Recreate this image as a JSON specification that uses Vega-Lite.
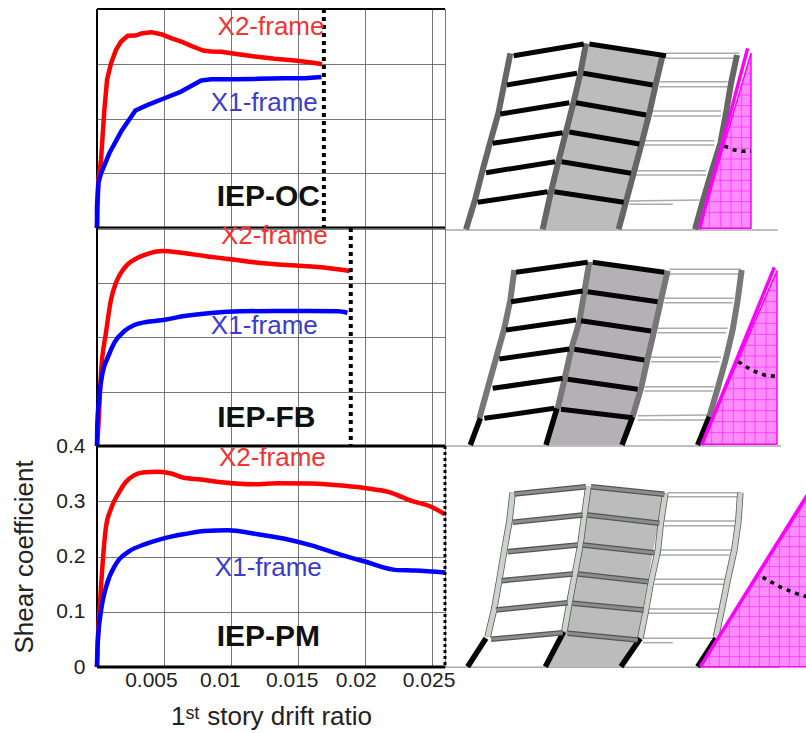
{"$schema":"https://vega.github.io/schema/vega-lite/v6.json","background":"white","padding":{"left":11,"top":6,"right":0,"bottom":0},"spacing":0,"bounds":"flush","columns":2,
"config":{"view":{"stroke":"#777","strokeWidth":1},"font":"Liberation Sans","axis":{"labelFont":"Liberation Sans","titleFont":"Liberation Sans","labelFontSize":21,"titleFontSize":26,"labelColor":"#222","titleColor":"#222","titleFontWeight":"normal","gridColor":"#555","gridWidth":1,"gridOpacity":0.8}},
"datasets":{
"oc":[{"f":"X2","x":0,"y":0},{"f":"X2","x":0.0001,"y":0.0878},{"f":"X2","x":0.0003,"y":0.1243},{"f":"X2","x":0.00055,"y":0.2157},{"f":"X2","x":0.00075,"y":0.2706},{"f":"X2","x":0.00105,"y":0.301},{"f":"X2","x":0.00142,"y":0.3254},{"f":"X2","x":0.0018,"y":0.3406},{"f":"X2","x":0.0023,"y":0.351},{"f":"X2","x":0.0029,"y":0.3516},{"f":"X2","x":0.0034,"y":0.3559},{"f":"X2","x":0.00404,"y":0.3577},{"f":"X2","x":0.00479,"y":0.354},{"f":"X2","x":0.00554,"y":0.3467},{"f":"X2","x":0.00629,"y":0.3406},{"f":"X2","x":0.00704,"y":0.3327},{"f":"X2","x":0.00791,"y":0.3242},{"f":"X2","x":0.00853,"y":0.3224},{"f":"X2","x":0.00928,"y":0.3218},{"f":"X2","x":0.01028,"y":0.3181},{"f":"X2","x":0.01178,"y":0.3132},{"f":"X2","x":0.01327,"y":0.309},{"f":"X2","x":0.01477,"y":0.3059},{"f":"X2","x":0.01602,"y":0.3023},{"f":"X2","x":0.01682,"y":0.2992},
{"f":"X1","x":0,"y":0},{"f":"X1","x":0,"y":0.039},{"f":"X1","x":0.0001,"y":0.0817},{"f":"X1","x":0.0003,"y":0.0999},{"f":"X1","x":0.00092,"y":0.1365},{"f":"X1","x":0.0018,"y":0.1761},{"f":"X1","x":0.00287,"y":0.2145},{"f":"X1","x":0.00379,"y":0.2249},{"f":"X1","x":0.00504,"y":0.237},{"f":"X1","x":0.00629,"y":0.2492},{"f":"X1","x":0.00778,"y":0.2693},{"f":"X1","x":0.00853,"y":0.2718},{"f":"X1","x":0.01028,"y":0.2718},{"f":"X1","x":0.01203,"y":0.2724},{"f":"X1","x":0.01402,"y":0.2736},{"f":"X1","x":0.01552,"y":0.2736},{"f":"X1","x":0.01677,"y":0.276}],
"fb":[{"f":"X2","x":0,"y":0},{"f":"X2","x":0.0001,"y":0.0367},{"f":"X2","x":0.0003,"y":0.1346},{"f":"X2","x":0.00067,"y":0.2079},{"f":"X2","x":0.00105,"y":0.2691},{"f":"X2","x":0.00142,"y":0.2997},{"f":"X2","x":0.0018,"y":0.318},{"f":"X2","x":0.00229,"y":0.3333},{"f":"X2","x":0.00292,"y":0.3437},{"f":"X2","x":0.00367,"y":0.3517},{"f":"X2","x":0.00492,"y":0.3578},{"f":"X2","x":0.00629,"y":0.3547},{"f":"X2","x":0.00803,"y":0.3486},{"f":"X2","x":0.01003,"y":0.3425},{"f":"X2","x":0.01203,"y":0.3364},{"f":"X2","x":0.01452,"y":0.3315},{"f":"X2","x":0.01651,"y":0.3284},{"f":"X2","x":0.01889,"y":0.3211},
{"f":"X1","x":0,"y":0},{"f":"X1","x":0.00002,"y":0.0367},{"f":"X1","x":0.00015,"y":0.0856},{"f":"X1","x":0.00042,"y":0.1346},{"f":"X1","x":0.0008,"y":0.1621},{"f":"X1","x":0.0013,"y":0.1896},{"f":"X1","x":0.00205,"y":0.211},{"f":"X1","x":0.00279,"y":0.222},{"f":"X1","x":0.00367,"y":0.2275},{"f":"X1","x":0.00479,"y":0.2306},{"f":"X1","x":0.00654,"y":0.2385},{"f":"X1","x":0.00853,"y":0.244},{"f":"X1","x":0.01078,"y":0.2471},{"f":"X1","x":0.01327,"y":0.2477},{"f":"X1","x":0.01577,"y":0.2477},{"f":"X1","x":0.01801,"y":0.2471},{"f":"X1","x":0.01871,"y":0.2446}],
"pm":[{"f":"X2","x":0,"y":0},{"f":"X2","x":0.00005,"y":0.0412},{"f":"X2","x":0.00025,"y":0.1261},{"f":"X2","x":0.00067,"y":0.2533},{"f":"X2","x":0.00105,"y":0.2867},{"f":"X2","x":0.00167,"y":0.317},{"f":"X2","x":0.00217,"y":0.3352},{"f":"X2","x":0.00279,"y":0.3473},{"f":"X2","x":0.00354,"y":0.3527},{"f":"X2","x":0.00454,"y":0.3533},{"f":"X2","x":0.00554,"y":0.3503},{"f":"X2","x":0.00641,"y":0.343},{"f":"X2","x":0.00778,"y":0.3394},{"f":"X2","x":0.00928,"y":0.3345},{"f":"X2","x":0.01178,"y":0.3309},{"f":"X2","x":0.01352,"y":0.3327},{"f":"X2","x":0.01602,"y":0.3321},{"f":"X2","x":0.01851,"y":0.3279},{"f":"X2","x":0.02026,"y":0.323},{"f":"X2","x":0.02176,"y":0.317},{"f":"X2","x":0.0235,"y":0.3006},{"f":"X2","x":0.025,"y":0.2897},{"f":"X2","x":0.026,"y":0.2764},
{"f":"X1","x":0,"y":0},{"f":"X1","x":0.00005,"y":0.0412},{"f":"X1","x":0.0003,"y":0.1018},{"f":"X1","x":0.00067,"y":0.1442},{"f":"X1","x":0.00142,"y":0.1867},{"f":"X1","x":0.00242,"y":0.2097},{"f":"X1","x":0.00354,"y":0.2218},{"f":"X1","x":0.00479,"y":0.2315},{"f":"X1","x":0.00654,"y":0.2406},{"f":"X1","x":0.00803,"y":0.2461},{"f":"X1","x":0.00978,"y":0.2473},{"f":"X1","x":0.01178,"y":0.2412},{"f":"X1","x":0.01402,"y":0.2321},{"f":"X1","x":0.01602,"y":0.22},{"f":"X1","x":0.01801,"y":0.2048},{"f":"X1","x":0.02001,"y":0.1909},{"f":"X1","x":0.02226,"y":0.1758},{"f":"X1","x":0.02375,"y":0.1745},{"f":"X1","x":0.026,"y":0.1709}],
"A":[
{"k":"wall","y":75,"x":410,"x2":410},{"k":"wall","y":105,"x":403,"x2":630},{"k":"wall","y":190,"x":385,"x2":615},{"k":"wall","y":280,"x":360,"x2":595},{"k":"wall","y":370,"x":337,"x2":572},{"k":"wall","y":460,"x":315,"x2":548},{"k":"wall","y":545,"x":295,"x2":525},{"k":"wall","y":628,"x":275,"x2":503},
{"k":"tri","y":100,"x":900,"x2":900},{"k":"tri","y":625,"x":745,"x2":900},
{"k":"col","id":"c1","x":45,"y":628},{"k":"col","id":"c1","x":72,"y":540},{"k":"col","id":"c1","x":95,"y":450},{"k":"col","id":"c1","x":118,"y":365},{"k":"col","id":"c1","x":142,"y":280},{"k":"col","id":"c1","x":160,"y":190},{"k":"col","id":"c1","x":178,"y":100},
{"k":"col","id":"c2","x":275,"y":628},{"k":"col","id":"c2","x":300,"y":515},{"k":"col","id":"c2","x":322,"y":425},{"k":"col","id":"c2","x":345,"y":335},{"k":"col","id":"c2","x":368,"y":245},{"k":"col","id":"c2","x":388,"y":160},{"k":"col","id":"c2","x":405,"y":70},
{"k":"col","id":"c3","x":503,"y":628},{"k":"col","id":"c3","x":525,"y":545},{"k":"col","id":"c3","x":548,"y":460},{"k":"col","id":"c3","x":572,"y":370},{"k":"col","id":"c3","x":595,"y":280},{"k":"col","id":"c3","x":615,"y":190},{"k":"col","id":"c3","x":635,"y":105},
{"k":"col","id":"c4","x":732,"y":628},{"k":"col","id":"c4","x":755,"y":545},{"k":"col","id":"c4","x":780,"y":460},{"k":"col","id":"c4","x":808,"y":370},{"k":"col","id":"c4","x":825,"y":280},{"k":"col","id":"c4","x":840,"y":190},{"k":"col","id":"c4","x":858,"y":105},
{"k":"beam","x":80,"y":547,"x2":290,"y2":515},{"k":"beam","x":105,"y":458,"x2":312,"y2":425},{"k":"beam","x":125,"y":370,"x2":335,"y2":338},{"k":"beam","x":148,"y":282,"x2":355,"y2":248},{"k":"beam","x":168,"y":195,"x2":378,"y2":160},{"k":"beam","x":188,"y":107,"x2":398,"y2":72},
{"k":"beam","x":310,"y":515,"x2":518,"y2":547},{"k":"beam","x":332,"y":425,"x2":540,"y2":460},{"k":"beam","x":355,"y":336,"x2":565,"y2":372},{"k":"beam","x":375,"y":248,"x2":585,"y2":285},{"k":"beam","x":397,"y":160,"x2":605,"y2":195},{"k":"beam","x":415,"y":72,"x2":645,"y2":107},
{"k":"thin","x":535,"y":543,"x2":745,"y2":540},{"k":"thin","x":535,"y":553,"x2":665,"y2":553},{"k":"thin","x":555,"y":452,"x2":765,"y2":452},{"k":"thin","x":555,"y":465,"x2":765,"y2":465},{"k":"thin","x":580,"y":362,"x2":790,"y2":362},{"k":"thin","x":580,"y":375,"x2":790,"y2":375},{"k":"thin","x":600,"y":273,"x2":810,"y2":273},{"k":"thin","x":605,"y":288,"x2":810,"y2":288},{"k":"thin","x":625,"y":185,"x2":830,"y2":185},{"k":"thin","x":625,"y":200,"x2":830,"y2":200},{"k":"thin","x":645,"y":100,"x2":865,"y2":100},{"k":"thin","x":645,"y":115,"x2":850,"y2":115},
{"k":"ground","x":-15,"y":630,"x2":980,"y2":630},
{"k":"grid","x":891,"y":129,"x2":900,"y2":129},{"k":"grid","x":882,"y":161,"x2":900,"y2":161},{"k":"grid","x":872,"y":193,"x2":900,"y2":193},{"k":"grid","x":863,"y":225,"x2":900,"y2":225},{"k":"grid","x":854,"y":257,"x2":900,"y2":257},{"k":"grid","x":844,"y":289,"x2":900,"y2":289},{"k":"grid","x":835,"y":321,"x2":900,"y2":321},{"k":"grid","x":825,"y":353,"x2":900,"y2":353},{"k":"grid","x":816,"y":385,"x2":900,"y2":385},{"k":"grid","x":806,"y":417,"x2":900,"y2":417},{"k":"grid","x":797,"y":449,"x2":900,"y2":449},{"k":"grid","x":787,"y":481,"x2":900,"y2":481},{"k":"grid","x":778,"y":513,"x2":900,"y2":513},{"k":"grid","x":769,"y":545,"x2":900,"y2":545},{"k":"grid","x":759,"y":577,"x2":900,"y2":577},
{"k":"grid","x":775,"y":523,"x2":775,"y2":625},{"k":"grid","x":808,"y":412,"x2":808,"y2":625},{"k":"grid","x":840,"y":303,"x2":840,"y2":625},{"k":"grid","x":872,"y":195,"x2":872,"y2":625},
{"k":"hyp","x":745,"y":628,"x2":890,"y2":85},
{"k":"edge","x":745,"y":625,"x2":900,"y2":100},{"k":"edge","x":900,"y":100,"x2":900,"y2":625},{"k":"edge","x":745,"y":625,"x2":900,"y2":625},
{"k":"dot","x":820,"y":378},{"k":"dot","x":850,"y":390},{"k":"dot","x":872,"y":394},{"k":"dot","x":900,"y":394}],
"B":[
{"k":"wall","y":37,"x":420,"x2":420},{"k":"wall","y":65,"x":412,"x2":640},{"k":"wall","y":155,"x":398,"x2":622},{"k":"wall","y":240,"x":378,"x2":603},{"k":"wall","y":330,"x":355,"x2":583},{"k":"wall","y":415,"x":335,"x2":560},{"k":"wall","y":500,"x":318,"x2":540},{"k":"wall","y":585,"x":290,"x2":510},
{"k":"tri","y":62,"x":978,"x2":978},{"k":"tri","y":583,"x":752,"x2":978},
{"k":"col","id":"c1","x":85,"y":505},{"k":"col","id":"c1","x":110,"y":415},{"k":"col","id":"c1","x":135,"y":325},{"k":"col","id":"c1","x":160,"y":235},{"k":"col","id":"c1","x":178,"y":150},{"k":"col","id":"c1","x":190,"y":60},
{"k":"col","id":"c2","x":320,"y":475},{"k":"col","id":"c2","x":340,"y":390},{"k":"col","id":"c2","x":360,"y":300},{"k":"col","id":"c2","x":385,"y":215},{"k":"col","id":"c2","x":400,"y":125},{"k":"col","id":"c2","x":415,"y":35},
{"k":"col","id":"c3","x":545,"y":500},{"k":"col","id":"c3","x":570,"y":415},{"k":"col","id":"c3","x":590,"y":325},{"k":"col","id":"c3","x":610,"y":240},{"k":"col","id":"c3","x":630,"y":150},{"k":"col","id":"c3","x":650,"y":62},
{"k":"col","id":"c4","x":775,"y":500},{"k":"col","id":"c4","x":800,"y":415},{"k":"col","id":"c4","x":825,"y":325},{"k":"col","id":"c4","x":845,"y":240},{"k":"col","id":"c4","x":860,"y":150},{"k":"col","id":"c4","x":872,"y":60},
{"k":"low","x":58,"y":585,"x2":88,"y2":505},{"k":"low","x":285,"y":585,"x2":318,"y2":475},{"k":"low","x":513,"y":585,"x2":545,"y2":500},{"k":"low","x":740,"y":585,"x2":775,"y2":500},
{"k":"beam","x":100,"y":505,"x2":310,"y2":475},{"k":"beam","x":125,"y":415,"x2":335,"y2":385},{"k":"beam","x":145,"y":327,"x2":355,"y2":297},{"k":"beam","x":165,"y":240,"x2":375,"y2":210},{"k":"beam","x":180,"y":155,"x2":395,"y2":123},{"k":"beam","x":195,"y":67,"x2":410,"y2":37},
{"k":"beam","x":330,"y":478,"x2":545,"y2":503},{"k":"beam","x":350,"y":388,"x2":560,"y2":418},{"k":"beam","x":370,"y":298,"x2":580,"y2":330},{"k":"beam","x":390,"y":212,"x2":600,"y2":243},{"k":"beam","x":410,"y":125,"x2":620,"y2":155},{"k":"beam","x":425,"y":37,"x2":640,"y2":67},
{"k":"thin","x":560,"y":497,"x2":770,"y2":495},{"k":"thin","x":560,"y":510,"x2":765,"y2":510},{"k":"thin","x":580,"y":410,"x2":790,"y2":410},{"k":"thin","x":580,"y":423,"x2":785,"y2":423},{"k":"thin","x":600,"y":322,"x2":810,"y2":322},{"k":"thin","x":600,"y":335,"x2":805,"y2":335},{"k":"thin","x":620,"y":235,"x2":830,"y2":235},{"k":"thin","x":620,"y":248,"x2":825,"y2":248},{"k":"thin","x":640,"y":145,"x2":850,"y2":145},{"k":"thin","x":640,"y":158,"x2":845,"y2":158},{"k":"thin","x":655,"y":58,"x2":870,"y2":58},{"k":"thin","x":655,"y":72,"x2":865,"y2":72},
{"k":"ground","x":-15,"y":588,"x2":990,"y2":588},
{"k":"grid","x":966,"y":90,"x2":978,"y2":90},{"k":"grid","x":952,"y":122,"x2":978,"y2":122},{"k":"grid","x":938,"y":155,"x2":978,"y2":155},{"k":"grid","x":923,"y":188,"x2":978,"y2":188},{"k":"grid","x":910,"y":220,"x2":978,"y2":220},{"k":"grid","x":895,"y":253,"x2":978,"y2":253},{"k":"grid","x":881,"y":286,"x2":978,"y2":286},{"k":"grid","x":867,"y":318,"x2":978,"y2":318},{"k":"grid","x":853,"y":351,"x2":978,"y2":351},{"k":"grid","x":838,"y":384,"x2":978,"y2":384},{"k":"grid","x":824,"y":416,"x2":978,"y2":416},{"k":"grid","x":810,"y":449,"x2":978,"y2":449},{"k":"grid","x":796,"y":482,"x2":978,"y2":482},{"k":"grid","x":782,"y":515,"x2":978,"y2":515},{"k":"grid","x":767,"y":548,"x2":978,"y2":548},
{"k":"grid","x":782,"y":514,"x2":782,"y2":583},{"k":"grid","x":815,"y":438,"x2":815,"y2":583},{"k":"grid","x":847,"y":364,"x2":847,"y2":583},{"k":"grid","x":880,"y":288,"x2":880,"y2":583},{"k":"grid","x":912,"y":214,"x2":912,"y2":583},{"k":"grid","x":945,"y":138,"x2":945,"y2":583},
{"k":"hyp","x":752,"y":585,"x2":970,"y2":52},
{"k":"edge","x":752,"y":583,"x2":978,"y2":62},{"k":"edge","x":978,"y":62,"x2":978,"y2":583},{"k":"edge","x":752,"y":583,"x2":978,"y2":583},
{"k":"dot","x":862,"y":335},{"k":"dot","x":900,"y":360},{"k":"dot","x":940,"y":375},{"k":"dot","x":980,"y":380}],
"C":[
{"k":"wall","y":50,"x":418,"x2":418},{"k":"wall","y":73,"x":412,"x2":635},{"k":"wall","y":160,"x":400,"x2":622},{"k":"wall","y":248,"x":385,"x2":605},{"k":"wall","y":335,"x":367,"x2":590},{"k":"wall","y":420,"x":350,"x2":575},{"k":"wall","y":505,"x":333,"x2":560},{"k":"wall","y":590,"x":290,"x2":510},
{"k":"tri","y":80,"x":1068,"x2":1068},{"k":"tri","y":590,"x":748,"x2":1068},
{"k":"col","id":"c1","x":110,"y":500},{"k":"col","id":"c1","x":130,"y":415},{"k":"col","id":"c1","x":145,"y":330},{"k":"col","id":"c1","x":160,"y":240},{"k":"col","id":"c1","x":175,"y":155},{"k":"col","id":"c1","x":185,"y":68},
{"k":"col","id":"c2","x":340,"y":485},{"k":"col","id":"c2","x":355,"y":400},{"k":"col","id":"c2","x":372,"y":310},{"k":"col","id":"c2","x":388,"y":225},{"k":"col","id":"c2","x":400,"y":135},{"k":"col","id":"c2","x":412,"y":50},
{"k":"col","id":"c3","x":568,"y":505},{"k":"col","id":"c3","x":585,"y":420},{"k":"col","id":"c3","x":600,"y":335},{"k":"col","id":"c3","x":620,"y":245},{"k":"col","id":"c3","x":630,"y":155},{"k":"col","id":"c3","x":643,"y":70},
{"k":"col","id":"c4","x":795,"y":500},{"k":"col","id":"c4","x":812,"y":420},{"k":"col","id":"c4","x":830,"y":330},{"k":"col","id":"c4","x":850,"y":240},{"k":"col","id":"c4","x":862,"y":155},{"k":"col","id":"c4","x":868,"y":68},
{"k":"low","x":50,"y":590,"x2":105,"y2":505},{"k":"low","x":283,"y":590,"x2":338,"y2":485},{"k":"low","x":510,"y":590,"x2":568,"y2":505},{"k":"low","x":740,"y":590,"x2":795,"y2":505},
{"k":"beam","x":120,"y":508,"x2":335,"y2":488},{"k":"beam","x":135,"y":420,"x2":350,"y2":398},{"k":"beam","x":152,"y":332,"x2":365,"y2":312},{"k":"beam","x":170,"y":245,"x2":380,"y2":225},{"k":"beam","x":185,"y":157,"x2":395,"y2":135},{"k":"beam","x":190,"y":72,"x2":405,"y2":50},
{"k":"beam","x":350,"y":490,"x2":560,"y2":510},{"k":"beam","x":365,"y":400,"x2":578,"y2":420},{"k":"beam","x":382,"y":312,"x2":592,"y2":335},{"k":"beam","x":395,"y":225,"x2":610,"y2":248},{"k":"beam","x":410,"y":135,"x2":625,"y2":160},{"k":"beam","x":420,"y":50,"x2":640,"y2":73},
{"k":"thin","x":575,"y":505,"x2":790,"y2":505},{"k":"thin","x":575,"y":518,"x2":665,"y2":518},{"k":"thin","x":590,"y":417,"x2":805,"y2":417},{"k":"thin","x":590,"y":430,"x2":800,"y2":430},{"k":"thin","x":610,"y":328,"x2":825,"y2":328},{"k":"thin","x":610,"y":343,"x2":820,"y2":343},{"k":"thin","x":625,"y":240,"x2":840,"y2":240},{"k":"thin","x":625,"y":255,"x2":835,"y2":255},{"k":"thin","x":640,"y":153,"x2":860,"y2":153},{"k":"thin","x":640,"y":167,"x2":855,"y2":167},{"k":"thin","x":650,"y":68,"x2":870,"y2":68},{"k":"thin","x":650,"y":80,"x2":865,"y2":80},
{"k":"ground","x":-15,"y":592,"x2":985,"y2":592},
{"k":"grid","x":1030,"y":140,"x2":1068,"y2":140},{"k":"grid","x":1011,"y":170,"x2":1068,"y2":170},{"k":"grid","x":993,"y":200,"x2":1068,"y2":200},{"k":"grid","x":974,"y":230,"x2":1068,"y2":230},{"k":"grid","x":955,"y":260,"x2":1068,"y2":260},{"k":"grid","x":936,"y":290,"x2":1068,"y2":290},{"k":"grid","x":917,"y":320,"x2":1068,"y2":320},{"k":"grid","x":898,"y":350,"x2":1068,"y2":350},{"k":"grid","x":880,"y":380,"x2":1068,"y2":380},{"k":"grid","x":861,"y":410,"x2":1068,"y2":410},{"k":"grid","x":842,"y":440,"x2":1068,"y2":440},{"k":"grid","x":823,"y":470,"x2":1068,"y2":470},{"k":"grid","x":804,"y":500,"x2":1068,"y2":500},{"k":"grid","x":786,"y":530,"x2":1068,"y2":530},{"k":"grid","x":767,"y":560,"x2":1068,"y2":560},
{"k":"grid","x":775,"y":547,"x2":775,"y2":590},{"k":"grid","x":805,"y":499,"x2":805,"y2":590},{"k":"grid","x":835,"y":451,"x2":835,"y2":590},{"k":"grid","x":865,"y":403,"x2":865,"y2":590},{"k":"grid","x":895,"y":356,"x2":895,"y2":590},{"k":"grid","x":925,"y":308,"x2":925,"y2":590},{"k":"grid","x":955,"y":260,"x2":955,"y2":590},{"k":"grid","x":985,"y":212,"x2":985,"y2":590},{"k":"grid","x":1015,"y":164,"x2":1015,"y2":590},{"k":"grid","x":1045,"y":116,"x2":1045,"y2":590},
{"k":"hyp","x":748,"y":590,"x2":1068,"y2":76},
{"k":"edge","x":748,"y":590,"x2":1068,"y2":84},{"k":"edge","x":748,"y":590,"x2":1068,"y2":590},
{"k":"dot","x":935,"y":322},{"k":"dot","x":990,"y":352},{"k":"dot","x":1040,"y":372},{"k":"dot","x":1068,"y":380}]
},
"concat":[
{"width":348,"height":219,"data":{"name":"oc"},
"encoding":{"x":{"field":"x","type":"quantitative","scale":{"domain":[0,0.026],"nice":false,"zero":false},"axis":{"values":[0.005,0.01,0.015,0.02,0.025],"labels":false,"ticks":false,"domain":false,"title":null,"grid":true}},"y":{"field":"y","type":"quantitative","scale":{"domain":[0,0.4],"nice":false},"axis":{"values":[0,0.1,0.2,0.3,0.4],"labels":false,"ticks":false,"domain":false,"title":null,"grid":true}}},
"layer":[
{"mark":{"type":"rule","stroke":"black","strokeWidth":2},"data":{"values":[{"v":0.4}]},"encoding":{"x":{"value":0},"x2":{"value":348},"y":{"field":"v","type":"quantitative"}}},
{"mark":{"type":"rule","stroke":"black","strokeWidth":2},"data":{"values":[{"v":0}]},"encoding":{"x":{"field":"v","type":"quantitative"},"y":{"value":0},"y2":{"value":219}}},
{"mark":{"type":"line","strokeWidth":4.5,"stroke":"#ff0000","strokeJoin":"round"},"transform":[{"filter":"datum.f==='X2'"}]},
{"mark":{"type":"line","strokeWidth":4.5,"stroke":"#0000ff","strokeJoin":"round"},"transform":[{"filter":"datum.f==='X1'"}]},
{"mark":{"type":"rule","stroke":"black","strokeWidth":4,"strokeDash":[4,4]},"data":{"values":[{"d":0.01695}]},"encoding":{"x":{"field":"d","type":"quantitative"},"y":{"value":0},"y2":{"value":219}}},
{"mark":{"type":"rule","stroke":"black","strokeWidth":3},"data":{"values":[{"v":0}]},"encoding":{"y":{"field":"v","type":"quantitative"},"x":{"value":0},"x2":{"value":348}}},
{"mark":{"type":"text","font":"Liberation Sans","fontSize":26},"data":{"values":[{"t":"X2-frame","x":0.013,"y":0.367,"c":"#f33333"},{"t":"X1-frame","x":0.0125,"y":0.2285,"c":"#3c3ccc"}]},"encoding":{"text":{"field":"t"},"color":{"field":"c","type":"nominal","scale":null}}},
{"mark":{"type":"text","font":"Liberation Sans","fontSize":30,"fontWeight":"bold","color":"#111"},"data":{"values":[{"t":"IEP-OC","x":0.0128,"y":0.057}]},"encoding":{"text":{"field":"t"}}}
]},
{"width":362,"height":219,"data":{"name":"A"},"view":{"stroke":null},
"encoding":{"x":{"field":"x","type":"quantitative","scale":{"domain":[-18,1068],"nice":false,"zero":false},"axis":null},"y":{"field":"y","type":"quantitative","scale":{"domain":[624,-33],"nice":false,"zero":false},"axis":null}},
"layer":[
{"mark":{"type":"area","orient":"horizontal","fill":"#bcbcbc"},"transform":[{"filter":"datum.k==='wall'"}],"encoding":{"x2":{"field":"x2"}}},
{"mark":{"type":"area","orient":"horizontal","fill":"#ff8cff"},"transform":[{"filter":"datum.k==='tri'"}],"encoding":{"x2":{"field":"x2"}}},
{"mark":{"type":"rule","stroke":"#ff33ff","strokeWidth":0.8},"transform":[{"filter":"datum.k==='grid'"}],"encoding":{"x2":{"field":"x2"},"y2":{"field":"y2"}}},
{"mark":{"type":"rule","stroke":"#aaa","strokeWidth":1.5},"transform":[{"filter":"datum.k==='ground'||datum.k==='thin'"}],"encoding":{"x2":{"field":"x2"},"y2":{"field":"y2"}}},
{"mark":{"type":"line","stroke":"#666","strokeWidth":6},"transform":[{"filter":"datum.k==='col'"}],"encoding":{"detail":{"field":"id"}}},
{"mark":{"type":"rule","stroke":"#050505","strokeWidth":5},"transform":[{"filter":"datum.k==='beam'"}],"encoding":{"x2":{"field":"x2"},"y2":{"field":"y2"}}},
{"mark":{"type":"rule","stroke":"#ff00ff","strokeWidth":3.5},"transform":[{"filter":"datum.k==='hyp'"}],"encoding":{"x2":{"field":"x2"},"y2":{"field":"y2"}}},
{"mark":{"type":"rule","stroke":"#ff00ff","strokeWidth":1.5},"transform":[{"filter":"datum.k==='edge'"}],"encoding":{"x2":{"field":"x2"},"y2":{"field":"y2"}}},
{"mark":{"type":"line","stroke":"black","strokeWidth":3.5,"strokeDash":[4,5]},"transform":[{"filter":"datum.k==='dot'"}]}
]},
{"width":348,"height":218,"data":{"name":"fb"},
"encoding":{"x":{"field":"x","type":"quantitative","scale":{"domain":[0,0.026],"nice":false,"zero":false},"axis":{"values":[0.005,0.01,0.015,0.02,0.025],"labels":false,"ticks":false,"domain":false,"title":null,"grid":true}},"y":{"field":"y","type":"quantitative","scale":{"domain":[0,0.4],"nice":false},"axis":{"values":[0,0.1,0.2,0.3,0.4],"labels":false,"ticks":false,"domain":false,"title":null,"grid":true}}},
"layer":[
{"mark":{"type":"rule","stroke":"black","strokeWidth":2},"data":{"values":[{"v":0}]},"encoding":{"x":{"field":"v","type":"quantitative"},"y":{"value":0},"y2":{"value":218}}},
{"mark":{"type":"line","strokeWidth":4.5,"stroke":"#ff0000","strokeJoin":"round","interpolate":"monotone"},"transform":[{"filter":"datum.f==='X2'"}]},
{"mark":{"type":"line","strokeWidth":4.5,"stroke":"#0000ff","strokeJoin":"round","interpolate":"monotone"},"transform":[{"filter":"datum.f==='X1'"}]},
{"mark":{"type":"rule","stroke":"black","strokeWidth":4,"strokeDash":[4,4]},"data":{"values":[{"d":0.01896}]},"encoding":{"x":{"field":"d","type":"quantitative"},"y":{"value":0},"y2":{"value":218}}},
{"mark":{"type":"rule","stroke":"black","strokeWidth":3},"data":{"values":[{"v":0}]},"encoding":{"y":{"field":"v","type":"quantitative"},"x":{"value":0},"x2":{"value":348}}},
{"mark":{"type":"text","font":"Liberation Sans","fontSize":26},"data":{"values":[{"t":"X2-frame","x":0.01325,"y":0.385,"c":"#f33333"},{"t":"X1-frame","x":0.0125,"y":0.22,"c":"#3c3ccc"}]},"encoding":{"text":{"field":"t"},"color":{"field":"c","type":"nominal","scale":null}}},
{"mark":{"type":"text","font":"Liberation Sans","fontSize":30,"fontWeight":"bold","color":"#111"},"data":{"values":[{"t":"IEP-FB","x":0.01265,"y":0.051}]},"encoding":{"text":{"field":"t"}}}
]},
{"width":362,"height":218,"data":{"name":"B"},"view":{"stroke":null},
"encoding":{"x":{"field":"x","type":"quantitative","scale":{"domain":[-18,1068],"nice":false,"zero":false},"axis":null},"y":{"field":"y","type":"quantitative","scale":{"domain":[588,-66],"nice":false,"zero":false},"axis":null}},
"layer":[
{"mark":{"type":"area","orient":"horizontal","fill":"#b5b0b5"},"transform":[{"filter":"datum.k==='wall'"}],"encoding":{"x2":{"field":"x2"}}},
{"mark":{"type":"area","orient":"horizontal","fill":"#ff8cff"},"transform":[{"filter":"datum.k==='tri'"}],"encoding":{"x2":{"field":"x2"}}},
{"mark":{"type":"rule","stroke":"#ff33ff","strokeWidth":0.8},"transform":[{"filter":"datum.k==='grid'"}],"encoding":{"x2":{"field":"x2"},"y2":{"field":"y2"}}},
{"mark":{"type":"rule","stroke":"#aaa","strokeWidth":1.5},"transform":[{"filter":"datum.k==='ground'||datum.k==='thin'"}],"encoding":{"x2":{"field":"x2"},"y2":{"field":"y2"}}},
{"mark":{"type":"line","stroke":"#777","strokeWidth":6},"transform":[{"filter":"datum.k==='col'"}],"encoding":{"detail":{"field":"id"}}},
{"mark":{"type":"rule","stroke":"#050505","strokeWidth":5.5},"transform":[{"filter":"datum.k==='low'"}],"encoding":{"x2":{"field":"x2"},"y2":{"field":"y2"}}},
{"mark":{"type":"rule","stroke":"#050505","strokeWidth":5},"transform":[{"filter":"datum.k==='beam'"}],"encoding":{"x2":{"field":"x2"},"y2":{"field":"y2"}}},
{"mark":{"type":"rule","stroke":"#ff00ff","strokeWidth":3.5},"transform":[{"filter":"datum.k==='hyp'"}],"encoding":{"x2":{"field":"x2"},"y2":{"field":"y2"}}},
{"mark":{"type":"rule","stroke":"#ff00ff","strokeWidth":1.5},"transform":[{"filter":"datum.k==='edge'"}],"encoding":{"x2":{"field":"x2"},"y2":{"field":"y2"}}},
{"mark":{"type":"line","stroke":"black","strokeWidth":3.5,"strokeDash":[4,5]},"transform":[{"filter":"datum.k==='dot'"}]}
]},
{"width":348,"height":221,"data":{"name":"pm"},
"encoding":{"x":{"field":"x","type":"quantitative","scale":{"domain":[0,0.026],"nice":false,"zero":false},"axis":{"values":[0.005,0.01,0.015,0.02,0.025],"format":"~g","labelPadding":2,"ticks":false,"domain":false,"title":"1ˢᵗ story drift ratio","titlePadding":13,"grid":true,"labelFlush":false,"labelOverlap":false,"labelOffset":{"expr":"datum.value==0.005?-13:datum.value==0.01?-11:datum.value==0.015?-6:datum.value==0.02?-9:-3"}}},"y":{"field":"y","type":"quantitative","scale":{"domain":[0,0.4],"nice":false},"axis":{"values":[0,0.1,0.2,0.3,0.4],"format":"~g","labelPadding":12,"ticks":false,"domain":false,"title":"Shear coefficient","titlePadding":18,"grid":true}}},
"layer":[
{"mark":{"type":"rule","stroke":"black","strokeWidth":2},"data":{"values":[{"v":0.4}]},"encoding":{"x":{"value":0},"x2":{"value":348},"y":{"field":"v","type":"quantitative"}}},
{"mark":{"type":"rule","stroke":"black","strokeWidth":2},"data":{"values":[{"v":0}]},"encoding":{"x":{"field":"v","type":"quantitative"},"y":{"value":0},"y2":{"value":221}}},
{"mark":{"type":"line","strokeWidth":4.5,"stroke":"#ff0000","strokeJoin":"round","interpolate":"monotone"},"transform":[{"filter":"datum.f==='X2'"}]},
{"mark":{"type":"line","strokeWidth":4.5,"stroke":"#0000ff","strokeJoin":"round","interpolate":"monotone"},"transform":[{"filter":"datum.f==='X1'"}]},
{"mark":{"type":"rule","stroke":"black","strokeWidth":3,"strokeDash":[3,3]},"data":{"values":[{"d":0.026}]},"encoding":{"x":{"field":"d","type":"quantitative"},"y":{"value":0},"y2":{"value":221}}},
{"mark":{"type":"rule","stroke":"black","strokeWidth":3},"data":{"values":[{"v":0}]},"encoding":{"y":{"field":"v","type":"quantitative"},"x":{"value":0},"x2":{"value":348}}},
{"mark":{"type":"text","font":"Liberation Sans","fontSize":26},"data":{"values":[{"t":"X2-frame","x":0.0131,"y":0.378,"c":"#f33333"},{"t":"X1-frame","x":0.0128,"y":0.179,"c":"#3c3ccc"}]},"encoding":{"text":{"field":"t"},"color":{"field":"c","type":"nominal","scale":null}}},
{"mark":{"type":"text","font":"Liberation Sans","fontSize":30,"fontWeight":"bold","color":"#111"},"data":{"values":[{"t":"IEP-PM","x":0.0128,"y":0.054}]},"encoding":{"text":{"field":"t"}}}
]},
{"width":362,"height":221,"data":{"name":"C"},"view":{"stroke":null},
"encoding":{"x":{"field":"x","type":"quantitative","scale":{"domain":[-18,1068],"nice":false,"zero":false},"axis":null},"y":{"field":"y","type":"quantitative","scale":{"domain":[591,-72],"nice":false,"zero":false},"axis":null}},
"layer":[
{"mark":{"type":"area","orient":"horizontal","fill":"#bcbcbc"},"transform":[{"filter":"datum.k==='wall'"}],"encoding":{"x2":{"field":"x2"}}},
{"mark":{"type":"area","orient":"horizontal","fill":"#ff8cff"},"transform":[{"filter":"datum.k==='tri'"}],"encoding":{"x2":{"field":"x2"}}},
{"mark":{"type":"rule","stroke":"#ff33ff","strokeWidth":0.8},"transform":[{"filter":"datum.k==='grid'"}],"encoding":{"x2":{"field":"x2"},"y2":{"field":"y2"}}},
{"mark":{"type":"rule","stroke":"#aaa","strokeWidth":1.5},"transform":[{"filter":"datum.k==='ground'||datum.k==='thin'"}],"encoding":{"x2":{"field":"x2"},"y2":{"field":"y2"}}},
{"mark":{"type":"line","stroke":"#555","strokeWidth":6.5},"transform":[{"filter":"datum.k==='col'"}],"encoding":{"detail":{"field":"id"}}},
{"mark":{"type":"line","stroke":"#ccd2cc","strokeWidth":5},"transform":[{"filter":"datum.k==='col'"}],"encoding":{"detail":{"field":"id"}}},
{"mark":{"type":"rule","stroke":"#050505","strokeWidth":5.5},"transform":[{"filter":"datum.k==='low'"}],"encoding":{"x2":{"field":"x2"},"y2":{"field":"y2"}}},
{"mark":{"type":"rule","stroke":"#555","strokeWidth":5.5},"transform":[{"filter":"datum.k==='beam'"}],"encoding":{"x2":{"field":"x2"},"y2":{"field":"y2"}}},
{"mark":{"type":"rule","stroke":"#8a8f8a","strokeWidth":3},"transform":[{"filter":"datum.k==='beam'"}],"encoding":{"x2":{"field":"x2"},"y2":{"field":"y2"}}},
{"mark":{"type":"rule","stroke":"#ff00ff","strokeWidth":3.5},"transform":[{"filter":"datum.k==='hyp'"}],"encoding":{"x2":{"field":"x2"},"y2":{"field":"y2"}}},
{"mark":{"type":"rule","stroke":"#ff00ff","strokeWidth":1.5},"transform":[{"filter":"datum.k==='edge'"}],"encoding":{"x2":{"field":"x2"},"y2":{"field":"y2"}}},
{"mark":{"type":"line","stroke":"black","strokeWidth":3.5,"strokeDash":[4,5]},"transform":[{"filter":"datum.k==='dot'"}]}
]}
]}
